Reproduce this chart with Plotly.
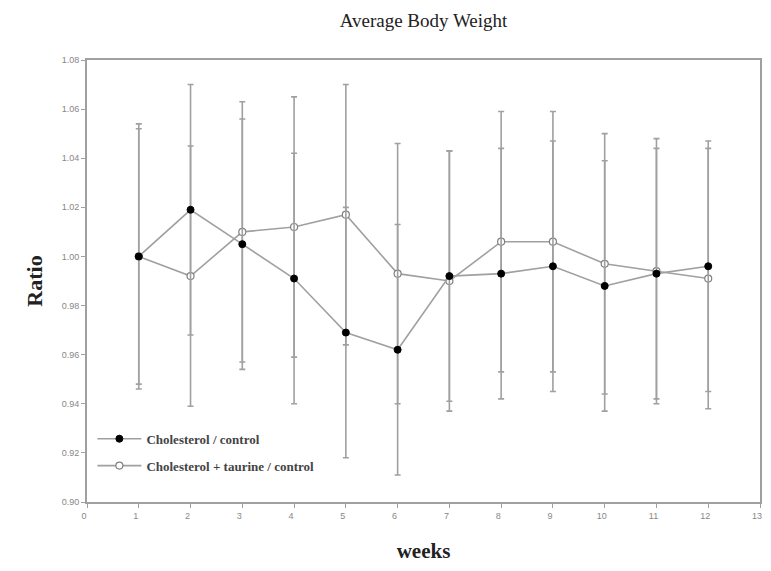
import plotly.graph_objects as go

weeks = [1, 2, 3, 4, 5, 6, 7, 8, 9, 10, 11, 12]
chol_control = [1.000, 1.019, 1.005, 0.991, 0.969, 0.962, 0.992, 0.993, 0.996, 0.988, 0.993, 0.996]
chol_control_err = [0.052, 0.051, 0.051, 0.051, 0.051, 0.051, 0.051, 0.051, 0.051, 0.051, 0.051, 0.051]
chol_taurine = [1.000, 0.992, 1.010, 1.012, 1.017, 0.993, 0.990, 1.006, 1.006, 0.997, 0.994, 0.991]
chol_taurine_err = [0.054, 0.053, 0.053, 0.053, 0.053, 0.053, 0.053, 0.053, 0.053, 0.053, 0.054, 0.053]

y_ticks = [0.90, 0.92, 0.94, 0.96, 0.98, 1.00, 1.02, 1.04, 1.06, 1.08]
x_ticks = list(range(0, 14))

LINE = "#a0a0a0"
serif = "Liberation Serif, DejaVu Serif, serif"

fig = go.Figure()
fig.add_trace(go.Scatter(
    x=weeks, y=chol_taurine, name="<b>Cholesterol + taurine / control</b>",
    legendgroup="b", legendrank=2,
    mode="lines+markers",
    line=dict(color=LINE, width=1.6),
    marker=dict(symbol="circle", size=7, color="white", line=dict(color="#808080", width=1.2)),
    error_y=dict(type="data", array=chol_taurine_err, visible=True, color=LINE, thickness=1.6, width=3),
))
fig.add_trace(go.Scatter(
    x=weeks, y=chol_control, name="<b>Cholesterol / control</b>",
    legendgroup="a", legendrank=1,
    mode="lines+markers",
    line=dict(color=LINE, width=1.6),
    marker=dict(symbol="circle", size=7, color="black", line=dict(color="black", width=1)),
    error_y=dict(type="data", array=chol_control_err, visible=True, color=LINE, thickness=1.6, width=3),
))

fig.update_layout(
    width=763, height=555,
    margin=dict(l=79, r=11, t=52, b=61, autoexpand=False),
    paper_bgcolor="white", plot_bgcolor="white",
    title=dict(text="Average Body Weight", x=0.5, xref="paper", y=1 - 12 / 555, yref="container",
               yanchor="middle", automargin=False,
               font=dict(family=serif, size=19, color="#222")),
    showlegend=True,
    legend=dict(x=0.008, y=0.177, xanchor="left", yanchor="top", traceorder="grouped",
                bgcolor="rgba(0,0,0,0)", font=dict(family=serif, size=13, color="#444"),
                itemwidth=44, tracegroupgap=7),
)
fig.update_xaxes(
    range=[0, 13], tickvals=x_ticks, ticktext=[str(v) for v in x_ticks], automargin=False,
    ticklabeloverflow="allow", ticklabelshift=-3,
    showline=True, linecolor="#a0a0a0", linewidth=2, mirror=True,
    ticks="outside", ticklen=4, tickcolor="#a0a0a0", showgrid=False, zeroline=False,
    tickfont=dict(family="Arial, Liberation Sans, sans-serif", size=9, color="#888"),
    title=dict(text="<b>weeks</b>", font=dict(family=serif, size=21, color="#222"), standoff=25),
)
fig.update_yaxes(
    range=[0.90, 1.08], tickvals=y_ticks, ticktext=[f"{v:.2f}" for v in y_ticks], automargin=False,
    showline=True, linecolor="#a0a0a0", linewidth=2, mirror=True,
    ticks="outside", ticklen=4, tickcolor="#a0a0a0", showgrid=False, zeroline=False,
    tickfont=dict(family="Arial, Liberation Sans, sans-serif", size=9, color="#888"),
    title=dict(text="<b>Ratio</b>", font=dict(family=serif, size=22, color="#222"), standoff=13),
)

fig.write_html("out.html")
